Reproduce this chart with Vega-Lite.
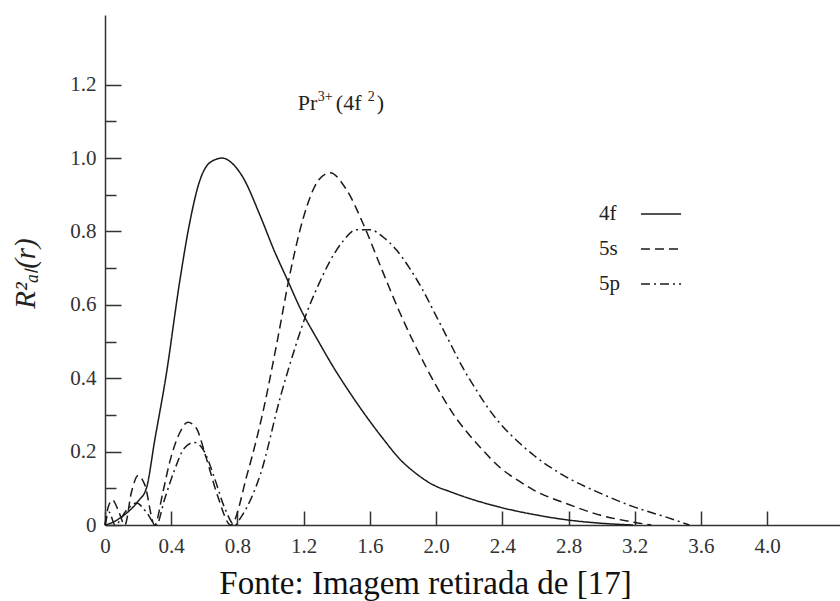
{
  "$schema": "https://vega.github.io/schema/vega-lite/v6.json",
  "width": 735,
  "height": 510,
  "autosize": {"type": "none"},
  "padding": {"left": 105, "top": 15, "right": 0, "bottom": 76},
  "background": "white",
  "config": {"view": {"stroke": null}, "font": "Liberation Serif"},
  "datasets": {
    "curves": [
      {"orbital": "4f", "r": 0, "R2": 0},
      {"orbital": "4f", "r": 0.05, "R2": 0.008},
      {"orbital": "4f", "r": 0.1, "R2": 0.022},
      {"orbital": "4f", "r": 0.15, "R2": 0.04},
      {"orbital": "4f", "r": 0.2, "R2": 0.065},
      {"orbital": "4f", "r": 0.25, "R2": 0.1},
      {"orbital": "4f", "r": 0.3, "R2": 0.23},
      {"orbital": "4f", "r": 0.37, "R2": 0.41},
      {"orbital": "4f", "r": 0.45, "R2": 0.66},
      {"orbital": "4f", "r": 0.51, "R2": 0.82},
      {"orbital": "4f", "r": 0.57, "R2": 0.935},
      {"orbital": "4f", "r": 0.64, "R2": 0.99},
      {"orbital": "4f", "r": 0.71, "R2": 1.0},
      {"orbital": "4f", "r": 0.77, "R2": 0.985},
      {"orbital": "4f", "r": 0.83, "R2": 0.95},
      {"orbital": "4f", "r": 0.94, "R2": 0.84},
      {"orbital": "4f", "r": 1.02, "R2": 0.75},
      {"orbital": "4f", "r": 1.1, "R2": 0.67},
      {"orbital": "4f", "r": 1.18, "R2": 0.59},
      {"orbital": "4f", "r": 1.29, "R2": 0.5},
      {"orbital": "4f", "r": 1.38, "R2": 0.43},
      {"orbital": "4f", "r": 1.48, "R2": 0.36},
      {"orbital": "4f", "r": 1.58, "R2": 0.295},
      {"orbital": "4f", "r": 1.68, "R2": 0.235},
      {"orbital": "4f", "r": 1.78, "R2": 0.18},
      {"orbital": "4f", "r": 1.88, "R2": 0.14},
      {"orbital": "4f", "r": 1.98, "R2": 0.11},
      {"orbital": "4f", "r": 2.09, "R2": 0.09},
      {"orbital": "4f", "r": 2.19, "R2": 0.074},
      {"orbital": "4f", "r": 2.39, "R2": 0.048},
      {"orbital": "4f", "r": 2.61, "R2": 0.027},
      {"orbital": "4f", "r": 2.79, "R2": 0.014},
      {"orbital": "4f", "r": 2.99, "R2": 0.005},
      {"orbital": "4f", "r": 3.19, "R2": 0.0},
      {"orbital": "5s", "r": 0, "R2": 0},
      {"orbital": "5s", "r": 0.02, "R2": 0.05},
      {"orbital": "5s", "r": 0.045, "R2": 0.068},
      {"orbital": "5s", "r": 0.08, "R2": 0.04},
      {"orbital": "5s", "r": 0.12, "R2": 0.0},
      {"orbital": "5s", "r": 0.16, "R2": 0.09},
      {"orbital": "5s", "r": 0.2, "R2": 0.135},
      {"orbital": "5s", "r": 0.24, "R2": 0.11},
      {"orbital": "5s", "r": 0.3, "R2": 0.0},
      {"orbital": "5s", "r": 0.35, "R2": 0.09},
      {"orbital": "5s", "r": 0.39, "R2": 0.17},
      {"orbital": "5s", "r": 0.45, "R2": 0.25},
      {"orbital": "5s", "r": 0.5, "R2": 0.28},
      {"orbital": "5s", "r": 0.55, "R2": 0.265},
      {"orbital": "5s", "r": 0.61, "R2": 0.185},
      {"orbital": "5s", "r": 0.68, "R2": 0.08},
      {"orbital": "5s", "r": 0.76, "R2": 0.0},
      {"orbital": "5s", "r": 0.86, "R2": 0.14},
      {"orbital": "5s", "r": 0.96, "R2": 0.32},
      {"orbital": "5s", "r": 1.04, "R2": 0.5},
      {"orbital": "5s", "r": 1.12, "R2": 0.69},
      {"orbital": "5s", "r": 1.2, "R2": 0.84},
      {"orbital": "5s", "r": 1.29, "R2": 0.94},
      {"orbital": "5s", "r": 1.36, "R2": 0.96},
      {"orbital": "5s", "r": 1.45, "R2": 0.92},
      {"orbital": "5s", "r": 1.57, "R2": 0.81},
      {"orbital": "5s", "r": 1.66, "R2": 0.71},
      {"orbital": "5s", "r": 1.78, "R2": 0.58},
      {"orbital": "5s", "r": 1.94, "R2": 0.43},
      {"orbital": "5s", "r": 2.1, "R2": 0.305},
      {"orbital": "5s", "r": 2.27, "R2": 0.21},
      {"orbital": "5s", "r": 2.39, "R2": 0.155},
      {"orbital": "5s", "r": 2.5, "R2": 0.12},
      {"orbital": "5s", "r": 2.59, "R2": 0.095},
      {"orbital": "5s", "r": 2.79, "R2": 0.058},
      {"orbital": "5s", "r": 2.99, "R2": 0.027},
      {"orbital": "5s", "r": 3.19, "R2": 0.008},
      {"orbital": "5s", "r": 3.3, "R2": 0.0},
      {"orbital": "5p", "r": 0, "R2": 0},
      {"orbital": "5p", "r": 0.025, "R2": 0.035},
      {"orbital": "5p", "r": 0.06, "R2": 0.0},
      {"orbital": "5p", "r": 0.13, "R2": 0.04},
      {"orbital": "5p", "r": 0.19, "R2": 0.06},
      {"orbital": "5p", "r": 0.25, "R2": 0.035},
      {"orbital": "5p", "r": 0.31, "R2": 0.0},
      {"orbital": "5p", "r": 0.36, "R2": 0.07},
      {"orbital": "5p", "r": 0.42, "R2": 0.15},
      {"orbital": "5p", "r": 0.48, "R2": 0.21},
      {"orbital": "5p", "r": 0.54, "R2": 0.225},
      {"orbital": "5p", "r": 0.6, "R2": 0.2},
      {"orbital": "5p", "r": 0.66, "R2": 0.13},
      {"orbital": "5p", "r": 0.72, "R2": 0.05},
      {"orbital": "5p", "r": 0.785, "R2": 0.0},
      {"orbital": "5p", "r": 0.82, "R2": 0.02},
      {"orbital": "5p", "r": 0.94, "R2": 0.14},
      {"orbital": "5p", "r": 1.06, "R2": 0.35},
      {"orbital": "5p", "r": 1.16, "R2": 0.5},
      {"orbital": "5p", "r": 1.22, "R2": 0.58},
      {"orbital": "5p", "r": 1.29, "R2": 0.655},
      {"orbital": "5p", "r": 1.36, "R2": 0.72},
      {"orbital": "5p", "r": 1.44, "R2": 0.775},
      {"orbital": "5p", "r": 1.52, "R2": 0.805},
      {"orbital": "5p", "r": 1.6, "R2": 0.805},
      {"orbital": "5p", "r": 1.68, "R2": 0.785},
      {"orbital": "5p", "r": 1.76, "R2": 0.75},
      {"orbital": "5p", "r": 1.84, "R2": 0.7},
      {"orbital": "5p", "r": 1.92, "R2": 0.64},
      {"orbital": "5p", "r": 2.0, "R2": 0.57},
      {"orbital": "5p", "r": 2.08, "R2": 0.5},
      {"orbital": "5p", "r": 2.16, "R2": 0.43},
      {"orbital": "5p", "r": 2.24, "R2": 0.37},
      {"orbital": "5p", "r": 2.32, "R2": 0.315},
      {"orbital": "5p", "r": 2.4, "R2": 0.27},
      {"orbital": "5p", "r": 2.5, "R2": 0.225},
      {"orbital": "5p", "r": 2.59, "R2": 0.19},
      {"orbital": "5p", "r": 2.79, "R2": 0.13},
      {"orbital": "5p", "r": 2.99, "R2": 0.087},
      {"orbital": "5p", "r": 3.19, "R2": 0.05},
      {"orbital": "5p", "r": 3.4, "R2": 0.02},
      {"orbital": "5p", "r": 3.53, "R2": 0.0}
    ],
    "one": [{"note": "Pr3+(4f2)"}]
  },
  "layer": [
    {
      "data": {"name": "curves"},
      "mark": {"type": "line", "interpolate": "monotone", "strokeWidth": 1.5, "color": "#1a1a1a"},
      "encoding": {
        "x": {
          "field": "r", "type": "quantitative",
          "scale": {"domain": [0, 4.44], "nice": false, "zero": false},
          "axis": {
            "values": [0, 0.2, 0.4, 0.6, 0.8, 1.0, 1.2, 1.4, 1.6, 1.8, 2.0, 2.2, 2.4, 2.6, 2.8, 3.0, 3.2, 3.4, 3.6, 3.8, 4.0],
            "labelExpr": "round(datum.value*10)%4==0 ? (datum.value==0 ? '0' : format(datum.value,'.1f')) : ''",
            "tickSize": {"condition": {"test": "round(datum.value*10)%4==0", "value": -14}, "value": -8},
            "labelPadding": 24,
            "labelOverlap": false,
            "labelFlush": false,
            "grid": false,
            "domainColor": "#333", "domainWidth": 1.5,
            "tickColor": "#333", "tickWidth": 1.5,
            "labelFont": "Liberation Serif", "labelFontSize": 21, "labelColor": "#333",
            "title": "Fonte: Imagem retirada de [17]",
            "titleFont": "Liberation Serif", "titleFontSize": 33, "titleFontWeight": "normal", "titleColor": "#111",
            "titleX": 320, "titleY": 68, "titleAlign": "center", "titleBaseline": "alphabetic"
          }
        },
        "y": {
          "field": "R2", "type": "quantitative",
          "scale": {"domain": [0, 1.39], "nice": false},
          "axis": {
            "values": [0, 0.1, 0.2, 0.3, 0.4, 0.5, 0.6, 0.7, 0.8, 0.9, 1.0, 1.1, 1.2],
            "labelExpr": "round(datum.value*10)%2==0 ? (datum.value==0 ? '0' : format(datum.value,'.1f')) : ''",
            "tickSize": {"condition": {"test": "round(datum.value*10)%2==0", "value": -16}, "value": -11},
            "labelPadding": 25,
            "labelOverlap": false,
            "labelFlush": false,
            "grid": false,
            "domainColor": "#333", "domainWidth": 1.5,
            "tickColor": "#333", "tickWidth": 1.5,
            "labelFont": "Liberation Serif", "labelFontSize": 21, "labelColor": "#333",
            "title": "R²ₐₗ(r)",
            "titleFont": "Liberation Serif", "titleFontSize": 29, "titleFontWeight": "normal", "titleFontStyle": "italic", "titleColor": "#222",
            "titleX": -80, "titleY": 258, "titleAngle": -90, "titleAlign": "center", "titleBaseline": "middle"
          }
        },
        "strokeDash": {
          "field": "orbital", "type": "nominal",
          "scale": {"domain": ["4f", "5s", "5p"], "range": [[1, 0], [9, 5], [9, 4, 2, 4]]},
          "legend": {
            "orient": "none", "legendX": 535, "legendY": 178,
            "title": null,
            "symbolType": "stroke", "symbolSize": 1600, "symbolStrokeWidth": 1.5, "symbolStrokeColor": "#1a1a1a",
            "labelFont": "Liberation Serif", "labelFontSize": 21, "labelColor": "#222",
            "labelOffset": -83, "labelAlign": "left",
            "rowPadding": 4
          }
        }
      }
    },
    {
      "data": {"name": "one"},
      "mark": {"type": "text", "align": "left", "baseline": "alphabetic", "fontSize": 22, "font": "Liberation Serif", "color": "#222"},
      "encoding": {"x": {"datum": 1.165}, "y": {"datum": 1.13}, "text": {"value": "Pr"}}
    },
    {
      "data": {"name": "one"},
      "mark": {"type": "text", "align": "left", "baseline": "alphabetic", "fontSize": 14, "font": "Liberation Serif", "color": "#222", "dx": 20, "dy": -9},
      "encoding": {"x": {"datum": 1.165}, "y": {"datum": 1.13}, "text": {"value": "3+"}}
    },
    {
      "data": {"name": "one"},
      "mark": {"type": "text", "align": "left", "baseline": "alphabetic", "fontSize": 22, "font": "Liberation Serif", "color": "#222", "dx": 38},
      "encoding": {"x": {"datum": 1.165}, "y": {"datum": 1.13}, "text": {"value": "(4f"}}
    },
    {
      "data": {"name": "one"},
      "mark": {"type": "text", "align": "left", "baseline": "alphabetic", "fontSize": 14, "font": "Liberation Serif", "color": "#222", "dx": 70, "dy": -9},
      "encoding": {"x": {"datum": 1.165}, "y": {"datum": 1.13}, "text": {"value": "2"}}
    },
    {
      "data": {"name": "one"},
      "mark": {"type": "text", "align": "left", "baseline": "alphabetic", "fontSize": 22, "font": "Liberation Serif", "color": "#222", "dx": 79},
      "encoding": {"x": {"datum": 1.165}, "y": {"datum": 1.13}, "text": {"value": ")"}}
    }
  ]
}
